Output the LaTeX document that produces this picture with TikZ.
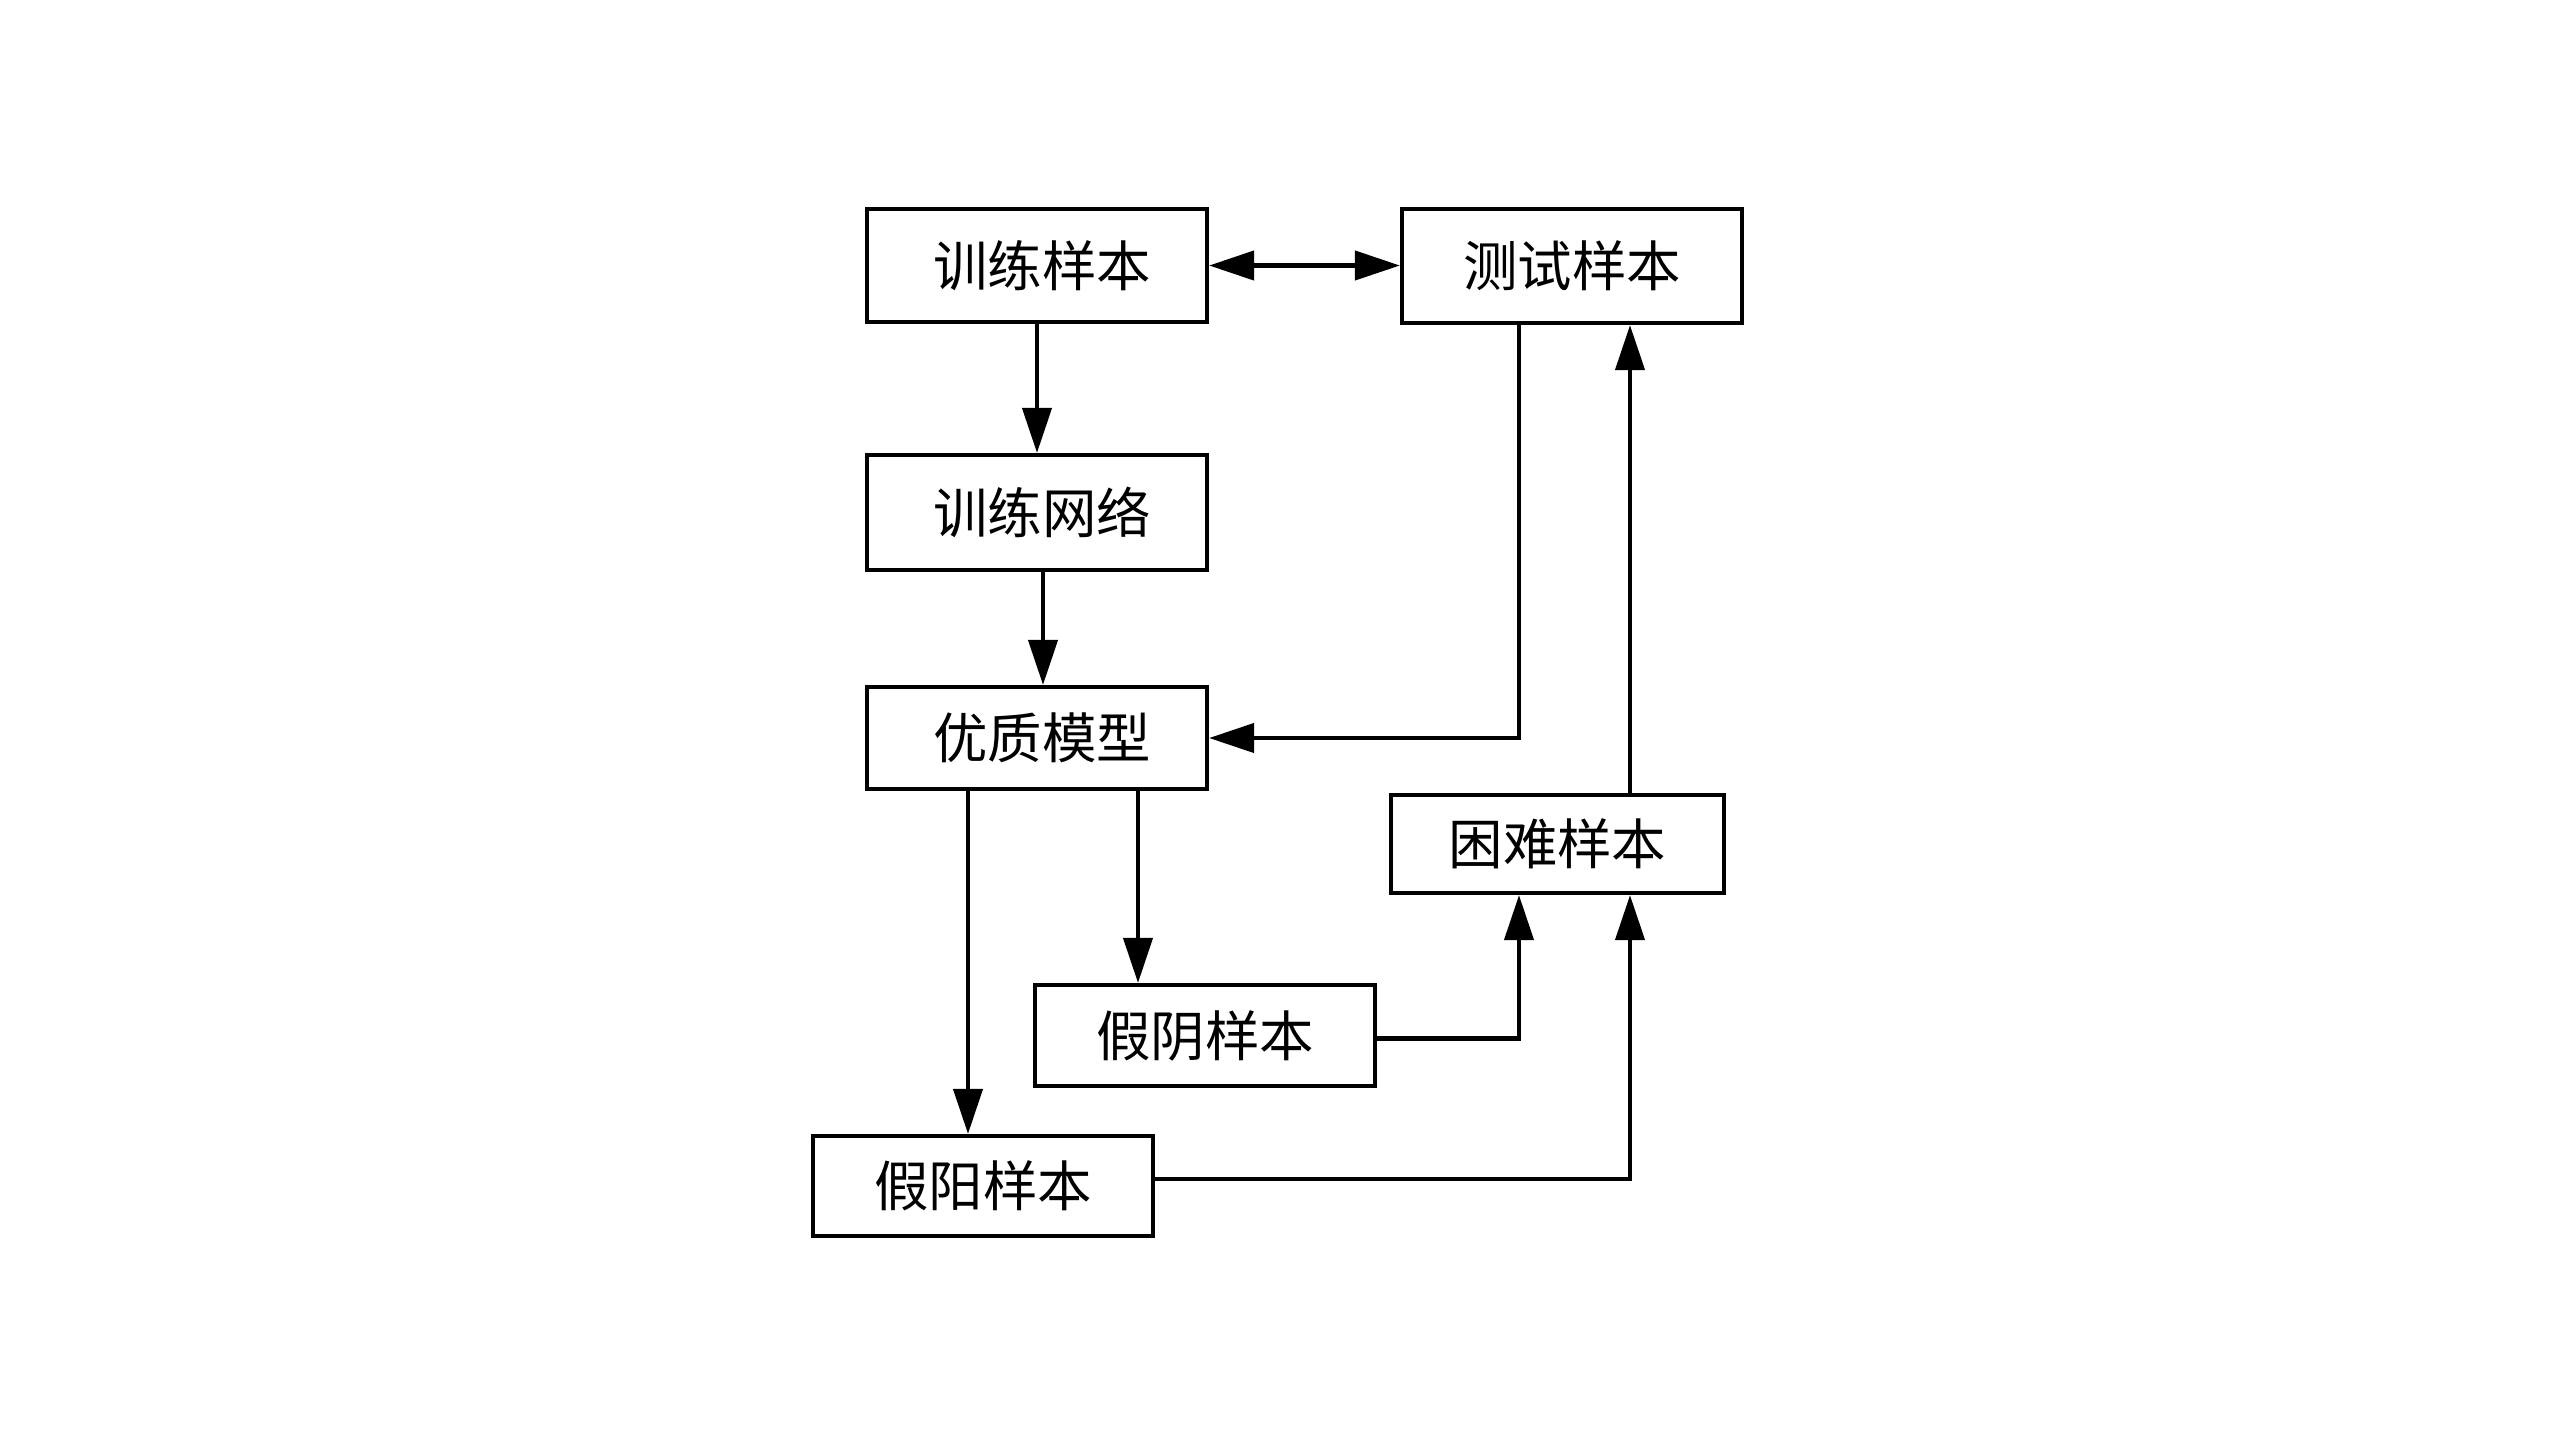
\documentclass[tikz,border=0pt]{standalone}
\usepackage{fontspec}
\newfontfamily\cjk{Noto Sans CJK SC}
\usetikzlibrary{positioning, arrows.meta, calc}

\tikzset{
    box/.style={draw, line width=1.2pt, inner sep=0pt, minimum width=3.4cm, font=\cjk\fontsize{15.5}{18}\selectfont},
    arr/.style={line width=1.2pt, -{Triangle[length=4.5mm, width=2.9mm]}},
    darr/.style={line width=1.2pt, {Triangle[length=4.5mm, width=2.9mm]}-{Triangle[length=4.5mm, width=2.9mm]}}
}

\begin{document}
\begin{tikzpicture}

        \useasboundingbox (0, 0) rectangle (25.6, -14.4);

        \node[box, minimum height=1.13cm] (train) at (10.37, -2.655) {\hspace{1mm}训练样本};
        \node[box, minimum height=1.14cm] (test) at (15.72, -2.66) {测试样本};
        \node[box, minimum height=1.15cm] (net) at (10.37, -5.125) {\hspace{1mm}训练网络};
        \node[box, minimum height=1.02cm] (model) at (10.37, -7.38) {\hspace{1mm}优质模型};
        \node[box, minimum height=0.98cm, minimum width=3.33cm] (hard) at (15.575, -8.44) {困难样本};
        \node[box, minimum height=1.01cm] (fneg) at (12.05, -10.355) {假阴样本};
        \node[box, minimum height=1.0cm] (fpos) at (9.83, -11.86) {假阳样本};

        % Training und Test
        \draw[darr] (train.east) -- (train.east -| test.west);
        \draw[arr] (train) -- (net);
        \draw[arr] ([xshift=0.6mm]net.south) -- ([xshift=0.6mm]model.north);
        \draw[arr] ([xshift=-5.3mm]test.south) |- (model.east);

        % Fehlerfaelle
        \draw[arr] ([xshift=-6.9mm]model.south) coordinate (p) -- (p |- fpos.north);
        \draw[arr] ([xshift=10.1mm]model.south) coordinate (n) -- (n |- fneg.north);

        % zurueck zu den Testdaten
        \draw[arr] ([yshift=-0.3mm]fneg.east) -| ([xshift=-3.85mm]hard.south);
        \draw[arr] ([yshift=0.7mm]fpos.east) -| ([xshift=7.25mm]hard.south);
        \draw[arr] ([xshift=7.25mm]hard.north) coordinate (h) -- (h |- test.south);

\end{tikzpicture}
\end{document}
